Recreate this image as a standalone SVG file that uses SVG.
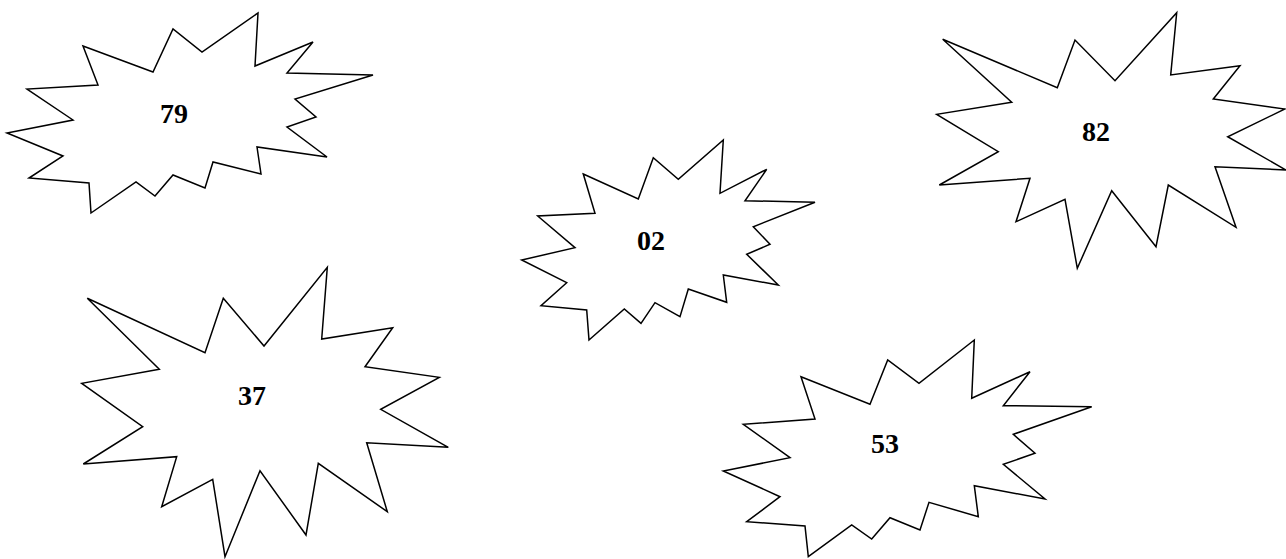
<svg xmlns="http://www.w3.org/2000/svg" width="1286" height="559" viewBox="0 0 1286 559">
<style>
.burst{fill:#fff;stroke:#000;stroke-width:1.5;stroke-linejoin:miter}
.lbl{font-family:"Liberation Serif","Times New Roman",serif;font-weight:bold;font-size:28px;text-anchor:middle;fill:#000}
</style>
<rect width="1286" height="559" fill="#fff"/>
<g id="node-79">
<polygon class="burst" points="83,46 153,72 173,29 202,52 258,13 255,66 313,42 287,73 373,75 295,99 316,117 287,127 327,157 257,147 261,174 213,162 205,188 173,175 155,196 136,182 91,213 89,183 29,178 63,156 7,133 73,120 27,89 98,85"/>
<text class="lbl" x="174" y="123">79</text>
</g>
<g id="node-02">
<polygon class="burst" points="583.3,174 638.3,199 653.3,157.7 678.3,179.3 723.3,140 720,193.3 766.7,169.3 745,200.7 815,202.3 753.3,226.7 770,244.3 746.7,254.3 778.3,285 723.3,275 726.7,302.3 688.3,289 680,316.7 655,302.7 641,323.3 624.3,309 589,340 586.7,310 541,305.7 566.7,282.7 521.7,260 575,247.7 537.7,216 595,213.3"/>
<text class="lbl" x="651" y="250">02</text>
</g>
<g id="node-53">
<polygon class="burst" points="801,376.7 870,404.3 887.7,360 919,383.3 974.3,340 971.7,398.3 1030,371.7 1003.3,405.7 1091.7,406.7 1013.3,434.3 1035,453.3 1003.3,464.3 1045,499 974.3,485.7 978.3,516.7 929,502.3 920,530 890,517.7 871.7,539 851.7,525 808.3,556.7 805,526 746.7,521.7 780,496.7 723.3,471 790,457.7 743.3,424.3 815,419"/>
<text class="lbl" x="885" y="453">53</text>
</g>
<g id="node-37">
<polygon class="burst" points="87.3,298.3 205,352.7 223.3,298.3 264,346 327.3,267.3 321.7,339 392.7,327.7 365,366.7 439.3,377.3 380.7,409.3 448.3,447.3 366.7,442.7 387.3,511.7 318.3,463.3 306,535 260,470.7 225,556.7 212.7,479.3 161.7,506.7 176.7,456.7 83.3,464 142.7,426.7 81.7,383.3 159.3,369.3"/>
<text class="lbl" x="252" y="405">37</text>
</g>
<g id="node-82">
<polygon class="burst" points="942.7,39.3 1057.3,87.7 1075,40 1115,80.7 1176.7,12.7 1170.7,75 1240,65.7 1213.3,99 1285,109 1227.7,136.7 1286,170 1215,166.7 1236,227.3 1168.3,185 1156,246.7 1111.7,190.7 1077.3,268.3 1065,199.3 1016,221.7 1030,178.3 939.3,185 998.3,151.7 936.7,114.3 1011.7,102.3"/>
<text class="lbl" x="1096" y="141">82</text>
</g>
<g id="connectors"/>
</svg>
